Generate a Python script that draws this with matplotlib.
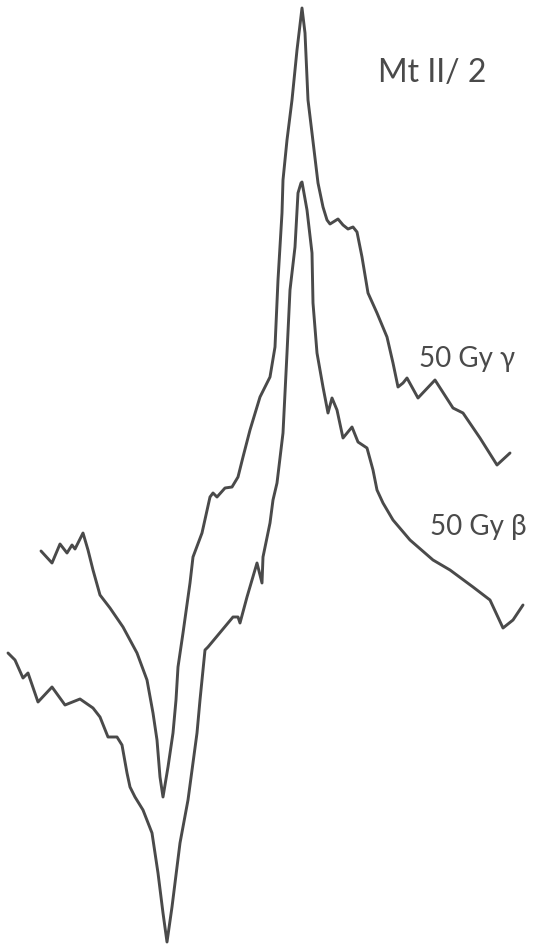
import matplotlib
matplotlib.use("Agg")
import matplotlib.pyplot as plt

# Hand-traced EPR spectra, traced in a 534 x 947 drawing frame (y grows downward)
gamma_x = [41, 52, 60, 67, 72, 75, 78, 83, 88, 93, 100, 110, 123, 137, 147, 153, 157,
           160, 163, 168, 173, 176, 178, 183, 190, 193, 202, 210, 213, 217, 225, 232,
           238, 243, 250, 260, 270, 275, 278, 282, 283, 287, 292, 297, 302, 305, 308,
           312, 318, 323, 327, 330, 338, 343, 348, 353, 357, 362, 368, 377, 387, 393,
           398, 403, 407, 418, 435, 453, 463, 480, 497, 510]
gamma_y = [551, 563, 544, 553, 545, 549, 543, 533, 550, 570, 595, 608, 627, 653, 680, 713, 740,
           777, 797, 767, 733, 700, 667, 633, 583, 557, 533, 497, 493, 497, 488, 487,
           477, 457, 430, 397, 377, 347, 280, 213, 180, 140, 100, 50, 8, 33, 100,
           133, 183, 207, 220, 224, 219, 225, 229, 227, 232, 257, 293, 313, 337, 363,
           387, 383, 378, 398, 380, 408, 413, 438, 465, 453]

beta_x = [8, 15, 23, 28, 38, 52, 65, 80, 93, 100, 108, 117, 122, 127, 130, 135, 143,
          152, 158, 163, 167, 172, 180, 188, 197, 200, 205, 208, 233, 238, 240, 247,
          257, 262, 263, 270, 273, 277, 283, 287, 290, 295, 298, 301, 302, 307, 312,
          313, 317, 323, 328, 332, 337, 343, 352, 358, 367, 373, 377, 383, 393, 410,
          433, 450, 473, 490, 503, 513, 523]
beta_y = [653, 660, 678, 673, 702, 687, 705, 699, 708, 717, 737, 737, 745, 773, 787, 797, 810,
          833, 873, 913, 942, 907, 843, 800, 733, 700, 650, 647, 617, 617, 623, 597,
          563, 583, 557, 523, 500, 483, 433, 353, 290, 247, 193, 183, 182, 210, 253,
          303, 353, 387, 413, 398, 410, 438, 427, 442, 448, 470, 490, 503, 520, 540,
          560, 570, 587, 600, 628, 620, 605]

title_text = "Mt II/ 2"
gamma_label = "50 Gy γ"
beta_label = "50 Gy β"

ink = "#4a4a4a"
label_font = ["Lato", "DejaVu Sans"]

fig = plt.figure(figsize=(5.34, 9.47), dpi=100)
ax = fig.add_axes([0, 0, 1, 1])
ax.set_xlim(0, 534)
ax.set_ylim(947, 0)
ax.axis("off")

ax.plot(gamma_x, gamma_y, color=ink, lw=2.1, solid_joinstyle="round", solid_capstyle="round")
ax.plot(beta_x, beta_y, color=ink, lw=2.1, solid_joinstyle="round", solid_capstyle="round")

ax.text(378, 82, title_text, fontsize=23, color=ink, family=label_font,
        ha="left", va="baseline")
ax.text(419, 367, gamma_label, fontsize=20, color=ink, family=label_font,
        ha="left", va="baseline")
ax.text(430, 535, beta_label, fontsize=20, color=ink, family=label_font,
        ha="left", va="baseline")

fig.savefig("out.png", dpi=100, facecolor="white")
